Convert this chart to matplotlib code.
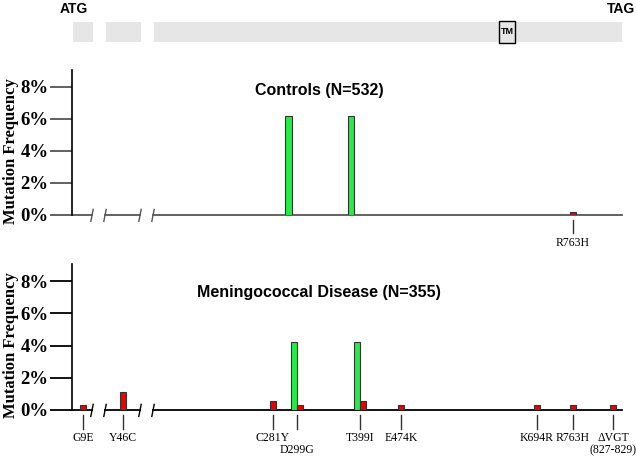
import numpy as np
import matplotlib
matplotlib.use("Agg")
import matplotlib.pyplot as plt

# positions are in schematic units along the drawn gene (0 = start of the axis)
exon_blocks = [(1, 20), (34, 35), (82, 468)]
tm_block = (427, 16)
gaps = [(20, 33), (68, 81)]

# controls (N=532)
ctrl_green_x = [216.5, 279]
ctrl_green_val = [6.2, 6.2]
ctrl_red_x = [501]
ctrl_red_val = [0.19]
ctrl_labels = ["R763H"]
ctrl_label_x = [501]

# meningococcal disease (N=355)
dis_labels = ["G9E", "Y46C", "C281Y", "D299G", "T399I", "E474K", "K694R", "R763H", "\u0394VGT"]
dis_label_x = [11, 51, 201, 225, 288, 329, 465, 501, 541]
dis_red_val = [0.28, 1.13, 0.56, 0.28, 0.56, 0.28, 0.28, 0.28, 0.28]
dis_green_x = [225, 288]
dis_green_val = [4.23, 4.23]

yticks = [0, 2, 4, 6, 8]
serif = "Liberation Serif"
sans = "Liberation Sans"

fig = plt.figure(figsize=(6.36, 4.59), dpi=100)
W, H = 636, 459

def px_axes(x0, y0, x1, y1):
    return fig.add_axes([x0 / W, 1 - y1 / H, (x1 - x0) / W, (y1 - y0) / H])

# gene schematic strip
gax = px_axes(72, 0, 622, 60)
gax.set_xlim(0, 550)
gax.set_ylim(60, 0)
gax.axis("off")
for start, length in exon_blocks:
    gax.add_patch(plt.Rectangle((start, 22), length, 20, facecolor="#e6e6e6", edgecolor="none"))
gax.add_patch(plt.Rectangle((tm_block[0], 21), tm_block[1], 22, facecolor="#e6e6e6",
                            edgecolor="black", linewidth=1))
gax.text(tm_block[0] + tm_block[1] / 2, 32, "TM", fontsize=6.5, fontweight="bold",
         family=sans, ha="center", va="center")
gax.text(2, 9, "ATG", fontsize=10, fontweight="bold", family=sans, ha="center", va="center")
gax.text(549, 9, "TAG", fontsize=10, fontweight="bold", family=sans, ha="center",
         va="center", clip_on=False)


def setup_panel(ax, base_color, title, title_y):
    ax.set_xlim(0, 550)
    ax.set_ylim(0, 9.06)
    for s in ["top", "right", "bottom"]:
        ax.spines[s].set_visible(False)
    ax.spines["left"].set_color("black")
    ax.spines["left"].set_linewidth(1.2)
    ax.set_xticks([])
    ax.set_yticks(yticks)
    ax.set_yticklabels([f"{t}%" for t in yticks], fontsize=13.5, fontweight="bold", family=serif)
    ax.tick_params(axis="y", length=16, width=1.3, color=base_color, pad=1)
    ax.set_ylabel("Mutation Frequency", fontsize=12, fontweight="bold", family=serif)
    ax.yaxis.set_label_coords(-0.097, 4 / 9.06)

    # broken baseline
    edges = [0] + [v for g in gaps for v in g] + [550]
    for a, b in zip(edges[::2], edges[1::2]):
        ax.plot([a, b], [0, 0], color=base_color, linewidth=1.3, clip_on=False, zorder=1)
    for g in gaps:
        for xb in g:
            ax.plot([xb - 1.2, xb + 1.2], [-0.4, 0.35], color=base_color, linewidth=1,
                    clip_on=False)
    ax.text(247, title_y, title, fontsize=11.5, fontweight="bold", family=sans,
            ha="center", va="center")


def label_sites(ax, xs, labels, color):
    for x, lab in zip(xs, labels):
        ax.plot([x, x], [-0.31, -1.15], color=color, linewidth=1, clip_on=False)
        if lab == "D299G":
            ax.text(x, -2.5, lab, fontsize=8.5, family=serif, ha="center", va="center")
        elif lab.startswith("\u0394"):
            ax.text(x, -1.75, lab, fontsize=8.5, family=serif, ha="center", va="center")
            ax.text(x, -2.5, "(827-829)", fontsize=8.5, family=serif, ha="center", va="center")
        else:
            ax.text(x, -1.75, lab, fontsize=8.5, family=serif, ha="center", va="center")


# controls panel
ax1 = px_axes(72, 70, 622, 215)
setup_panel(ax1, "#555555", "Controls (N=532)", 7.75)
ax1.bar(ctrl_green_x, ctrl_green_val, width=6.5, color="#22ee44", edgecolor="#333333",
        linewidth=0.8, zorder=3)
ax1.bar(ctrl_red_x, ctrl_red_val, width=5.5, color="#ee0000", edgecolor="#333333",
        linewidth=0.8, zorder=3)
label_sites(ax1, ctrl_label_x, ctrl_labels, "#333333")

# disease panel
ax2 = px_axes(72, 264, 622, 410)
setup_panel(ax2, "black", "Meningococcal Disease (N=355)", 7.27)
red_x = [x + 2.75 if x in dis_green_x else x for x in dis_label_x]
ax2.bar(dis_green_x, dis_green_val, width=-6.5, align="edge", color="#22ee44",
        edgecolor="#333333", linewidth=0.8, zorder=3)
ax2.bar(red_x, dis_red_val, width=5.5, color="#ee0000", edgecolor="#333333",
        linewidth=0.8, zorder=3)
label_sites(ax2, dis_label_x, dis_labels, "#333333")

fig.savefig("out.png", dpi=100)
